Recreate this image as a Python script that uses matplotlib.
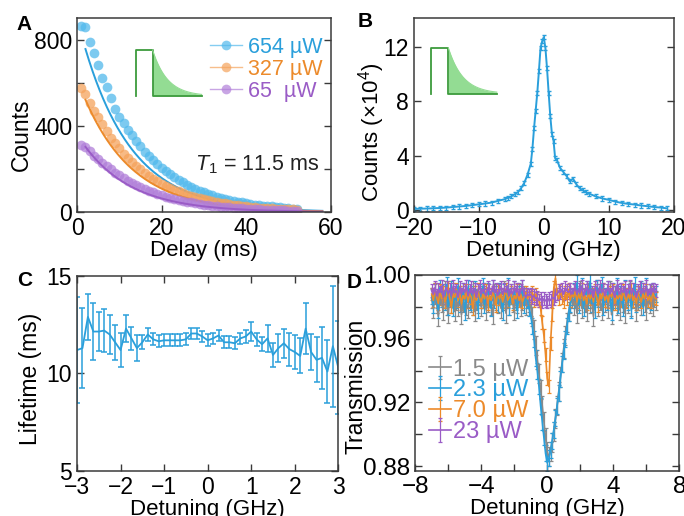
import matplotlib

matplotlib.use("Agg")
import matplotlib.pyplot as plt
import numpy as np
from matplotlib.lines import Line2D

plt.rcParams["font.family"] = ["Liberation Sans", "DejaVu Sans"]
plt.rcParams["mathtext.fontset"] = "custom"
plt.rcParams["mathtext.rm"] = "Liberation Sans"
plt.rcParams["mathtext.it"] = "Liberation Sans:italic"

# ---- panel A: decay curves --------------------------------------------------
delay_ms = np.arange(1, 53)
counts_654 = [865, 860, 790, 740, 680, 620, 580, 530, 480, 440,
              415, 380, 358, 330, 305, 280, 262, 240, 222, 205,
              190, 175, 162, 150, 138, 127, 118, 108, 100, 92,
              85, 78, 72, 67, 62, 57, 52, 48, 45, 41,
              38, 35, 32, 30, 28, 26, 24, 22, 20, 18, 16, 15]
counts_327 = [575, 550, 505, 470, 440, 410, 375, 345, 320, 295,
              270, 250, 232, 212, 198, 182, 168, 155, 143, 132,
              122, 112, 104, 96, 88, 81, 75, 69, 64, 59,
              55, 50, 46, 43, 40, 37, 34, 31, 29, 27,
              25, 23, 21, 20, 18, 17, 16, 15, 14, 13, 12, 11]
counts_65 = [312, 300, 285, 262, 245, 228, 212, 198, 182, 170,
             158, 146, 135, 125, 116, 107, 99, 92, 85, 78,
             72, 67, 62, 57, 52, 48, 45, 41, 38, 35,
             32, 30, 28, 25, 23, 22, 20, 18, 17, 16,
             14, 13, 12, 11, 10, 10, 9, 8, 8, 7, 7, 6]
power_labels_a = ["654 µW", "327 µW", "65  µW"]
fit_amplitude = [900, 620, 360]
T1_MS = 11.5

# ---- panel B: emission spectrum ----------------------------------------------
detuning_b = [-20, -19, -18, -17, -16, -15, -14, -13, -12, -11, -10, -9, -8, -7,
              -6, -5.5, -5, -4.5, -4, -3.5, -3, -2.5, -2, -1.75, -1.5, -1.25,
              -1, -0.75, -0.5, -0.25, 0, 0.25, 0.5, 0.75, 1, 1.25, 1.5, 1.75,
              2, 2.5, 3, 3.5, 4, 4.5, 5, 5.5, 6, 6.5, 7, 8, 9, 10, 11, 12, 13,
              14, 15, 16, 17, 18, 19]
counts_b = [0.08, 0.10, 0.11, 0.13, 0.15, 0.18, 0.22, 0.26, 0.30, 0.36, 0.42,
            0.48, 0.55, 0.68, 0.80, 0.90, 1.00, 1.15, 1.30, 1.60, 2.00, 2.60,
            3.40, 4.50, 6.00, 7.30, 8.60, 10.2, 11.9, 12.4, 12.7, 11.9, 10.4,
            8.6, 6.9, 5.6, 5.1, 3.8, 3.7, 3.1, 2.8, 2.5, 2.1, 2.3, 1.9, 1.6,
            1.45, 1.3, 1.2, 1.0, 0.85, 0.75, 0.62, 0.52, 0.45, 0.40, 0.33,
            0.28, 0.22, 0.18, 0.12]
counts_b_err = 0.15

# ---- panel C: lifetime vs detuning -------------------------------------------
detuning_c = np.linspace(-3, 3, 49)
lifetime_c = [11.2, 11.3, 12.9, 12.15, 12.15, 12.2, 12.0, 11.6, 11.2, 12.3,
              11.8, 11.3, 11.6, 12.0, 11.75, 11.65, 11.7, 11.7, 11.7, 11.7,
              11.75, 12.05, 12.05, 11.9, 11.7, 11.8, 11.95, 11.6, 11.6, 11.55,
              11.8, 11.9, 12.15, 11.75, 11.5, 11.8, 10.95, 11.3, 11.55, 11.25,
              11.1, 10.9, 12.3, 11.1, 10.7, 10.8, 10.1, 11.4, 10.3]
lifetime_err = [2.7, 2.05, 1.2, 1.45, 1.0, 1.1, 1.0, 0.9, 0.85, 0.7,
                0.6, 0.65, 0.35, 0.35, 0.3, 0.3, 0.3, 0.3, 0.3, 0.3,
                0.3, 0.3, 0.3, 0.3, 0.3, 0.3, 0.3, 0.3, 0.3, 0.3,
                0.3, 0.35, 0.5, 0.35, 0.35, 0.7, 0.6, 0.7, 0.75, 0.85,
                0.85, 0.9, 1.3, 0.9, 1.15, 1.6, 1.6, 3.1, 2.4]

# ---- panel D: transmission (values in 1e-3) -----------------------------------
detuning_d = np.round(np.arange(-7.0, 6.65, 0.1), 2)
trans_1p5 = [
    985, 979, 988, 982, 974, 987, 983, 978, 990, 981,
    976, 986, 982, 989, 977, 984, 980, 987, 975, 983,
    988, 981, 979, 986, 983, 990, 977, 984, 982, 987,
    980, 985, 989, 978, 983, 986, 981, 975, 988, 984,
    982, 987, 979, 984, 990, 976, 985, 981, 988, 983,
    978, 986, 982, 989, 980, 984, 987, 981, 985, 983,
    980, 974, 966, 956, 947, 938, 928, 918, 908, 898,
    889, 886, 889, 895, 902, 910, 918, 927, 936, 945,
    954, 962, 970, 977, 982, 985,
    981, 988, 976, 984, 990, 979, 986, 983, 977, 989,
    982, 985, 974, 987, 991, 980, 984, 978, 988, 983,
    986, 979, 990, 975, 984, 987, 981, 985, 978, 989,
    983, 976, 986, 982, 990, 980, 985, 988, 977, 984,
    987, 981, 989, 983, 978, 985, 982, 988, 980, 986,
    984]
trans_2p3 = [
    987, 981, 990, 984, 978, 992, 985, 989, 983, 994,
    980, 986, 991, 979, 988, 984, 993, 982, 987, 990,
    977, 985, 992, 983, 988, 980, 991, 986, 978, 989,
    984, 993, 981, 987, 990, 985, 979, 992, 984, 988,
    982, 990, 986, 977, 989, 985, 993, 980, 987, 984,
    991, 983, 978, 988, 986, 992, 981, 987, 984, 979,
    975, 968, 960, 948, 940, 930, 918, 908, 898, 888,
    882, 885, 890, 896, 903, 910, 918, 926, 935, 944,
    952, 960, 968, 976, 982, 986,
    990, 984, 995, 981, 988, 993, 979, 986, 991, 984,
    996, 982, 987, 978, 992, 985, 989, 994, 980, 987,
    983, 991, 986, 977, 990, 984, 993, 981, 988, 985,
    979, 992, 986, 983, 990, 978, 987, 994, 982, 988,
    985, 991, 980, 987, 993, 984, 989, 983, 990, 986,
    988]
trans_7p0 = [
    988, 984, 991, 986, 982, 990, 985, 989, 983, 987,
    992, 985, 980, 988, 986, 991, 984, 989, 982, 987,
    985, 990, 983, 988, 986, 979, 989, 984, 991, 986,
    983, 988, 985, 990, 982, 987, 984, 989, 986, 981,
    990, 985, 988, 983, 987, 991, 984, 986, 989, 982,
    987, 985, 990, 984, 988, 983, 986, 989, 985, 987,
    986, 989, 984, 988, 985, 984, 979, 970, 962, 950,
    935, 930, 957, 975, 992, 998, 988, 985, 990, 986,
    983, 989, 985, 991, 984, 988,
    986, 990, 983, 988, 985, 991, 984, 987, 982, 989,
    985, 988, 983, 990, 986, 981, 988, 985, 991, 984,
    987, 983, 989, 986, 990, 982, 987, 985, 988, 984,
    990, 986, 983, 988, 985, 991, 984, 987, 982, 989,
    986, 983, 988, 985, 990, 984, 987, 983, 989, 986,
    985]
trans_23 = [
    990, 988, 992, 987, 991, 989, 993, 986, 990, 992,
    988, 991, 987, 993, 989, 990, 986, 992, 988, 991,
    989, 993, 987, 990, 992, 988, 991, 986, 990, 993,
    988, 991, 989, 987, 992, 990, 988, 993, 989, 991,
    987, 990, 992, 988, 991, 989, 993, 987, 990, 988,
    992, 989, 991, 987, 990, 993, 988, 986, 988, 987,
    988, 986, 987, 985, 986, 984, 985, 983, 985, 984,
    983, 985, 984, 986, 985, 987, 988, 990, 989, 991,
    988, 992, 990, 989, 991, 988,
    990, 992, 988, 991, 989, 993, 987, 990, 992, 988,
    991, 989, 986, 992, 990, 988, 993, 989, 991, 987,
    990, 992, 988, 991, 989, 986, 993, 990, 988, 991,
    989, 992, 987, 990, 993, 988, 991, 989, 986, 990,
    992, 988, 991, 989, 993, 987, 990, 988, 991, 989,
    990]
power_labels_d = ["1.5 µW", "2.3 µW", "7.0 µW", "23 µW"]
trans_err = [0.006, 0.005, 0.004, 0.004]

BLUE_PT = "#52b9ec"
BLUE = "#2a9fdb"
ORANGE_PT = "#f5a35c"
ORANGE = "#ec8a2a"
PURPLE_PT = "#b17fd9"
PURPLE = "#9a5cc6"
GREY = "#8a8a8a"
GREEN = "#3d9b3d"
GREEN_FILL = "#93dc93"
SPINE = "#3a3a3a"
FS = 16.5


def style_axes(ax, top=False, size=FS):
    for sp in ax.spines.values():
        sp.set_color(SPINE)
        sp.set_linewidth(1.1)
    ax.tick_params(direction="in", length=5, width=1.0, color=SPINE,
                   labelsize=size, pad=3.5, right=True, top=top)


def draw_pulse_icon(ax, x0, x1, x2, y0, y1):
    tf = ax.transAxes
    ax.plot([x0, x0, x1, x1, x2], [y0, y1, y1, y0, y0], color=GREEN, lw=1.3,
            transform=tf, clip_on=False)
    xx = np.linspace(x1, x2, 60)
    yy = y0 + (y1 - y0) * np.exp(-(xx - x1) / (0.3 * (x2 - x1)))
    ax.fill_between(xx, y0, yy, color=GREEN_FILL, lw=0, transform=tf)
    ax.plot(xx, yy, color=GREEN_FILL, lw=0.8, transform=tf)


fig = plt.figure(figsize=(6.84, 5.16), dpi=100)
ax_a = fig.add_axes([0.1126, 0.589, 0.371, 0.376])
ax_b = fig.add_axes([0.605, 0.589, 0.380, 0.376])
ax_c = fig.add_axes([0.1126, 0.0872, 0.382, 0.378])
ax_d = fig.add_axes([0.607, 0.0872, 0.386, 0.380])

# A
series_a = [counts_654, counts_327, counts_65]
pt_colors = [BLUE_PT, ORANGE_PT, PURPLE_PT]
fit_colors = [BLUE, ORANGE, PURPLE]
t_fit = np.linspace(2, 58, 200)
for ys, amp, pc, fc in zip(series_a, fit_amplitude, pt_colors, fit_colors):
    ax_a.plot(delay_ms, ys, "o", ms=7, color=pc, alpha=0.75, mec="none")
    ax_a.plot(t_fit, amp * np.exp(-t_fit / T1_MS), color=fc, lw=1.4)
ax_a.set_xlim(0, 60)
ax_a.set_ylim(0, 900)
ax_a.set_xticks([0, 20, 40, 60])
ax_a.set_yticks([0, 200, 400, 600, 800])
ax_a.set_yticklabels(["0", "", "400", "", "800"])
ax_a.set_xlabel("Delay (ms)", fontsize=16, labelpad=0)
ax_a.set_ylabel("Counts", fontsize=16.5)
ax_a.yaxis.set_label_coords(-0.175, 0.40)
style_axes(ax_a)
handles = [Line2D([], [], color=c, marker="o", ms=7, lw=1.0, alpha=0.7, mec="none")
           for c in pt_colors]
leg = ax_a.legend(handles, power_labels_a, loc="upper right",
                  bbox_to_anchor=(1.02, 0.97), frameon=False, fontsize=15.5,
                  handlelength=1.5, handletextpad=0.3, labelspacing=0.05,
                  borderaxespad=0.2)
for txt, c in zip(leg.get_texts(), fit_colors):
    txt.set_color(c)
ax_a.text(0.955, 0.245, r"$\mathit{T}_1$ = 11.5 ms", transform=ax_a.transAxes,
          ha="right", va="center", fontsize=15.5, color="#222222")
draw_pulse_icon(ax_a, 0.232, 0.298, 0.491, 0.598, 0.835)

# B
ax_b.errorbar(detuning_b, counts_b, yerr=counts_b_err, color=BLUE, lw=1.4,
              elinewidth=0.8, capsize=1.2)
ax_b.set_xlim(-20, 20)
ax_b.set_ylim(-0.15, 14.1)
ax_b.set_xticks([-20, -10, 0, 10, 20])
ax_b.set_xticklabels(["\u221220", "\u221210", "0", "10", "20"])
ax_b.set_yticks([0, 4, 8, 12])
ax_b.set_xlabel("Detuning (GHz)", fontsize=16, labelpad=0)
ax_b.set_ylabel(r"Counts (×10$^4$)", fontsize=16)
ax_b.yaxis.set_label_coords(-0.105, 0.41)
style_axes(ax_b)
draw_pulse_icon(ax_b, 0.068, 0.133, 0.319, 0.61, 0.846)

# C
ax_c.errorbar(detuning_c, lifetime_c, yerr=lifetime_err, color=BLUE, lw=1.3,
              elinewidth=1.1, capsize=2.5, capthick=1.1)
ax_c.set_xlim(-3, 3)
ax_c.set_ylim(5, 15)
ax_c.set_xticks([-3, -2, -1, 0, 1, 2, 3])
ax_c.set_xticklabels(["\u22123", "\u22122", "\u22121", "0", "1", "2", "3"])
ax_c.set_yticks([5, 10, 15])
ax_c.set_xlabel("Detuning (GHz)", fontsize=16, labelpad=0)
ax_c.set_ylabel("Lifetime (ms)", fontsize=16.5)
ax_c.yaxis.set_label_coords(-0.135, 0.47)
style_axes(ax_c, top=True)

# D
series_d = [trans_1p5, trans_2p3, trans_7p0, trans_23]
d_colors = [GREY, BLUE, ORANGE, PURPLE]
containers = []
for ys, err, c in zip(series_d, trans_err, d_colors):
    cont = ax_d.errorbar(detuning_d, np.array(ys) / 1000.0, yerr=err, color=c,
                         lw=1.2, elinewidth=0.9, capsize=1.5, capthick=0.9)
    containers.append(cont)
ax_d.set_xlim(-8, 8)
ax_d.set_ylim(0.877, 1.0)
ax_d.set_xticks(np.arange(-8, 9, 2))
ax_d.set_xticklabels(["\u22128", "", "\u22124", "", "0", "", "4", "", "8"])
ax_d.set_yticks(np.arange(0.88, 1.001, 0.02))
ax_d.set_yticklabels(["0.88", "", "0.92", "", "0.96", "", "1.00"])
ax_d.set_xlabel("Detuning (GHz)", fontsize=16, labelpad=0)
ax_d.set_ylabel("Transmission", fontsize=16.5)
ax_d.yaxis.set_label_coords(-0.18, 0.43)
style_axes(ax_d, size=17.5)
leg_d = ax_d.legend(containers, power_labels_d, loc="lower left",
                    bbox_to_anchor=(0.0, 0.07), frameon=False, fontsize=17,
                    handlelength=0.9, handletextpad=0.1, labelspacing=-0.05,
                    borderaxespad=0.2)
for txt, c in zip(leg_d.get_texts(), d_colors):
    txt.set_color(c)

for label, (x, y) in zip("ABCD", [(0.035, 0.953), (0.534, 0.958),
                                  (0.036, 0.457), (0.518, 0.453)]):
    fig.text(x, y, label, fontsize=15, fontweight="bold", ha="center",
             va="center")

fig.savefig("out.png", dpi=100)
